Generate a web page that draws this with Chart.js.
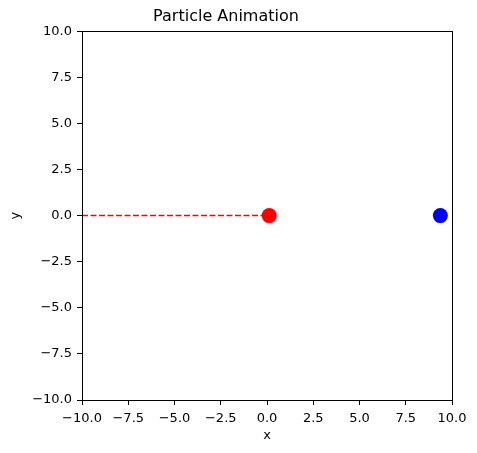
<!DOCTYPE html>
<html>
<head>
<meta charset="utf-8">
<script src="https://cdn.jsdelivr.net/npm/chart.js@4"></script>
<style>
  html, body { margin: 0; padding: 0; background: #fff; }
  #wrap { width: 477px; height: 453px; }
</style>
</head>
<body>
<div id="wrap"><canvas id="c" width="477" height="453"></canvas></div>
<script>
// Data
const trailX = [-10, 0.12];
const trailY = [0, 0];
const redX = [0.12];
const redY = [0];
const blueX = [9.37];
const blueY = [0];
const xTicks = [-10, -7.5, -5, -2.5, 0, 2.5, 5, 7.5, 10];
const yTicks = [-10, -7.5, -5, -2.5, 0, 2.5, 5, 7.5, 10];

const toPts = (xs, ys) => xs.map((x, i) => ({x: x, y: ys[i]}));

const FONT = "'DejaVu Sans', sans-serif";

const frame = {
  id: 'frame',
  afterDraw(chart) {
    const {ctx, chartArea: a} = chart;
    ctx.save();
    ctx.strokeStyle = '#000';
    ctx.lineWidth = 1;
    ctx.strokeRect(Math.round(a.left) + 0.5, Math.round(a.top) + 0.5,
                   Math.round(a.right - a.left), Math.round(a.bottom - a.top));
    ctx.restore();
  }
};

const tickFmt = v => (v < 0 ? '\u2212' : '') + Math.abs(v).toFixed(1);

new Chart(document.getElementById('c'), {
  type: 'scatter',
  data: {
    datasets: [
      {
        type: 'line',
        data: toPts(trailX, trailY),
        borderColor: '#ff0000',
        borderWidth: 1.5,
        borderDash: [6, 2.5],
        pointRadius: 0,
        fill: false
      },
      {
        data: toPts(redX, redY),
        backgroundColor: '#ff0000',
        borderColor: '#ff0000',
        pointRadius: 7.5,
        borderWidth: 0
      },
      {
        data: toPts(blueX, blueY),
        backgroundColor: '#0000ff',
        borderColor: '#0000ff',
        pointRadius: 7.5,
        borderWidth: 0
      }
    ]
  },
  options: {
    responsive: false,
    animation: false,
    devicePixelRatio: 1,
    layout: { padding: { left: 0, right: 25, top: 0, bottom: 0 } },
    plugins: {
      legend: { display: false },
      tooltip: { enabled: false },
      title: {
        display: true,
        text: 'Particle Animation',
        color: '#000',
        font: { family: FONT, size: 16, weight: 'normal', lineHeight: 1.2 },
        padding: { top: 7, bottom: 5 }
      }
    },
    scales: {
      x: {
        type: 'linear',
        min: -10, max: 10,
        afterBuildTicks: s => { s.ticks = xTicks.map(v => ({value: v})); },
        afterFit: s => { s.height = 53; },
        grid: { drawOnChartArea: false, drawTicks: true, tickLength: 5, color: '#000', tickColor: '#000' },
        border: { display: true, color: '#000' },
        ticks: { color: '#000', font: { family: FONT, size: 13 }, padding: 6, callback: tickFmt, maxRotation: 0, autoSkip: false },
        title: { display: true, text: 'x', color: '#000', font: { family: FONT, size: 13, lineHeight: 1.2 }, padding: { top: 0, bottom: 10 } }
      },
      y: {
        type: 'linear',
        min: -10, max: 10,
        afterBuildTicks: s => { s.ticks = yTicks.map(v => ({value: v})); },
        afterFit: s => { s.width = 82; },
        grid: { drawOnChartArea: false, drawTicks: true, tickLength: 5, color: '#000', tickColor: '#000' },
        border: { display: true, color: '#000' },
        ticks: { color: '#000', font: { family: FONT, size: 13 }, padding: 5, callback: tickFmt, autoSkip: false },
        title: { display: true, text: 'y', color: '#000', font: { family: FONT, size: 13, lineHeight: 1.2 }, padding: { top: 8, bottom: 0 } }
      }
    }
  },
  plugins: [frame]
});
</script>
</body>
</html>
